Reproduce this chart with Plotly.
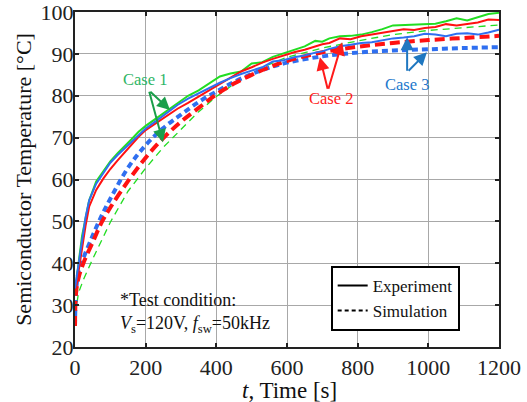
import plotly.graph_objects as go

# ---------------- data ----------------
t_exp = [0, 5, 10, 20, 30, 40, 60, 80, 100, 120, 140, 160, 180, 200, 230, 260, 290, 320, 350,
         380, 410, 440, 470, 500, 530, 560, 590, 620, 650, 680, 700, 720, 750, 780, 810, 840,
         870, 900, 930, 960, 990, 1020, 1050, 1080, 1110, 1140, 1170, 1200]

exp_case1 = [33, 36, 40, 46.5, 51, 55, 59.5, 62, 64.3, 66.2, 67.8, 69.6, 71.4, 72.8, 74.6, 76.4,
             78.2, 80, 81.3, 83, 84.6, 85.3, 85.8, 87.7, 88, 89.3, 90.1, 91, 91.8, 93.1, 92.9,
             93.7, 94.2, 94.3, 94.6, 95.2, 95.9, 96.8, 96.9, 96.9, 97, 97.2, 97.8, 98.5, 98,
             98.7, 99.5, 99.8]
exp_case2 = [33, 35, 38, 44, 49, 53.5, 57.5, 60.2, 62.5, 64.5, 66.4, 68.2, 70.2, 71.8, 73.5, 75.3,
             76.9, 78.3, 79.8, 81.4, 82.9, 84.4, 85.8, 86.8, 87.9, 88.8, 89.6, 90.4, 91, 91.8,
             92.3, 92.6, 93.7, 93.5, 94.2, 94.6, 95, 95.4, 95.9, 95.7, 96.2, 96.4, 97.1, 96.8,
             97.2, 97.5, 98.2, 98.1]
exp_case3 = [34, 37, 40, 46, 51, 55, 59, 61.5, 64, 65.8, 67.4, 69, 70.6, 72.2, 74, 76, 77.8,
             79.3, 80.6, 82, 83.1, 84.2, 85.2, 86, 86.8, 88.2, 88.5, 89.2, 89.6, 90.3, 90.6,
             91.2, 91.8, 92.2, 92.6, 92.8, 93.3, 93.7, 93.9, 94.2, 94.8, 94.6, 94.2, 94.8, 94.9,
             94.6, 95.1, 95.8]

t_sim = [0, 3, 10, 25, 50, 75, 100, 150, 200, 250, 300, 350, 400, 450, 500, 550, 600, 700,
         800, 900, 1000, 1100, 1200]
sim_case1 = [25, 29, 33, 36.3, 41, 45.5, 49.8, 57.2, 62.7, 67.7, 72, 76.2, 79.8, 82.8, 85.3,
             87.5, 89.2, 91.4, 93.1, 94.6, 95.6, 96.3, 96.9]
sim_case2 = [25, 33, 36.5, 40.3, 45, 49.7, 53.3, 59.6, 65.2, 69.9, 73.8, 77.1, 80.3, 82.9, 85,
             86.8, 88.3, 90.4, 91.7, 92.6, 93.3, 93.8, 94.3]
sim_case3 = [25, 33, 38, 41.5, 46.6, 51.3, 55.4, 62.8, 68.2, 72.3, 75.5, 78.5, 81, 83.3, 85.2,
             86.7, 87.9, 89.4, 90.3, 90.8, 91.1, 91.4, 91.6]

X_TITLE = "<i>t</i>, Time [s]"
Y_TITLE = "Semiconductor Temperature [°C]"

GREEN = "#22dd22"
RED = "#ff1111"
BLUE = "#2f6ff0"
FONT = "Liberation Serif"

fig = go.Figure()

# simulation
fig.add_trace(go.Scatter(x=t_sim, y=sim_case1, mode="lines", showlegend=False,
                         line=dict(color=GREEN, width=1.3, dash="7px,5px")))
fig.add_trace(go.Scatter(x=t_sim, y=sim_case3, mode="lines", showlegend=False,
                         line=dict(color=BLUE, width=4, dash="6px,4px", shape="spline")))
fig.add_trace(go.Scatter(x=t_sim, y=sim_case2, mode="lines", showlegend=False,
                         line=dict(color=RED, width=4, dash="10px,5px", shape="spline")))
# experiment
fig.add_trace(go.Scatter(x=t_exp, y=exp_case1, mode="lines", showlegend=False,
                         line=dict(color=GREEN, width=2)))
fig.add_trace(go.Scatter(x=t_exp, y=exp_case2, mode="lines", showlegend=False,
                         line=dict(color=RED, width=2)))
fig.add_trace(go.Scatter(x=t_exp, y=exp_case3, mode="lines", showlegend=False,
                         line=dict(color=BLUE, width=2)))

# legend entries
fig.add_trace(go.Scatter(x=[None], y=[None], mode="lines", name="Experiment",
                         legendgroup="a", line=dict(color="black", width=2)))
fig.add_trace(go.Scatter(x=[None], y=[None], mode="lines", name="Simulation",
                         legendgroup="b", line=dict(color="black", width=2, dash="4px,3px")))

# annotations: labels
labels = [
    ("Case 1", 198, 84, "#2fb565"),
    ("Case 2", 724, 79.4, "#ff2020"),
    ("Case 3", 940, 82.8, "#2277cc"),
]
for txt, x, y, c in labels:
    fig.add_annotation(x=x, y=y, text=txt, showarrow=False,
                       font=dict(family=FONT, size=16.5, color=c))

arrows = [
    (209, 81.3, 269, 76.6, "#1a9e4a"),
    (209, 81.3, 249, 68.9, "#1a9e4a"),
    (716, 81.3, 693, 89.2, "#ff1a1a"),
    (716, 81.3, 756, 92.8, "#ff1a1a"),
    (940, 85.6, 940, 94.0, "#1f77c0"),
    (940, 85.6, 996, 90.4, "#1f77c0"),
]
for ax_, ay_, x, y, c in arrows:
    fig.add_annotation(x=x, y=y, ax=ax_, ay=ay_, axref="x", ayref="y", text="",
                       showarrow=True, arrowhead=2, arrowsize=1.3, arrowwidth=2,
                       arrowcolor=c)

fig.add_annotation(x=122, y=28.2, xanchor="left", yanchor="middle", align="left",
                   text="*Test condition:<br><i>V</i><sub>s</sub>=120V, <i>f</i><sub>sw</sub>=50kHz",
                   showarrow=False, font=dict(family=FONT, size=18, color="#111"))

# x-axis title placed below the tick labels
fig.add_annotation(xref="paper", yref="paper", x=0.505, y=-0.13, xanchor="center",
                   yanchor="middle", text=X_TITLE, showarrow=False,
                   font=dict(family=FONT, size=23, color="#111"))

axis_common = dict(showline=True, linecolor="#222", linewidth=2, mirror="ticks",
                   ticks="inside", ticklen=4, tickwidth=2, tickcolor="#222",
                   showgrid=True, gridcolor="#a8a8a8", gridwidth=1, zeroline=False,
                   automargin=False, ticklabeloverflow="allow",
                   tickfont=dict(family=FONT, size=22, color="#222"))

fig.update_xaxes(range=[0, 1200], dtick=200, tick0=0, ticklabelstandoff=0,
                 **axis_common)
fig.update_yaxes(range=[20, 100], dtick=10, tick0=20, ticklabelstandoff=-5,
                 title=dict(text=Y_TITLE, standoff=3,
                            font=dict(family=FONT, size=22, color="#111")),
                 **axis_common)

fig.update_layout(
    width=527, height=402,
    margin=dict(l=75, r=28, t=12, b=55),
    paper_bgcolor="white", plot_bgcolor="white",
    legend=dict(x=0.603, y=0.242, xanchor="left", yanchor="top",
                bgcolor="white", bordercolor="black", borderwidth=2,
                tracegroupgap=0,
                font=dict(family=FONT, size=17, color="#111")),
)

fig.write_html("out.html")
